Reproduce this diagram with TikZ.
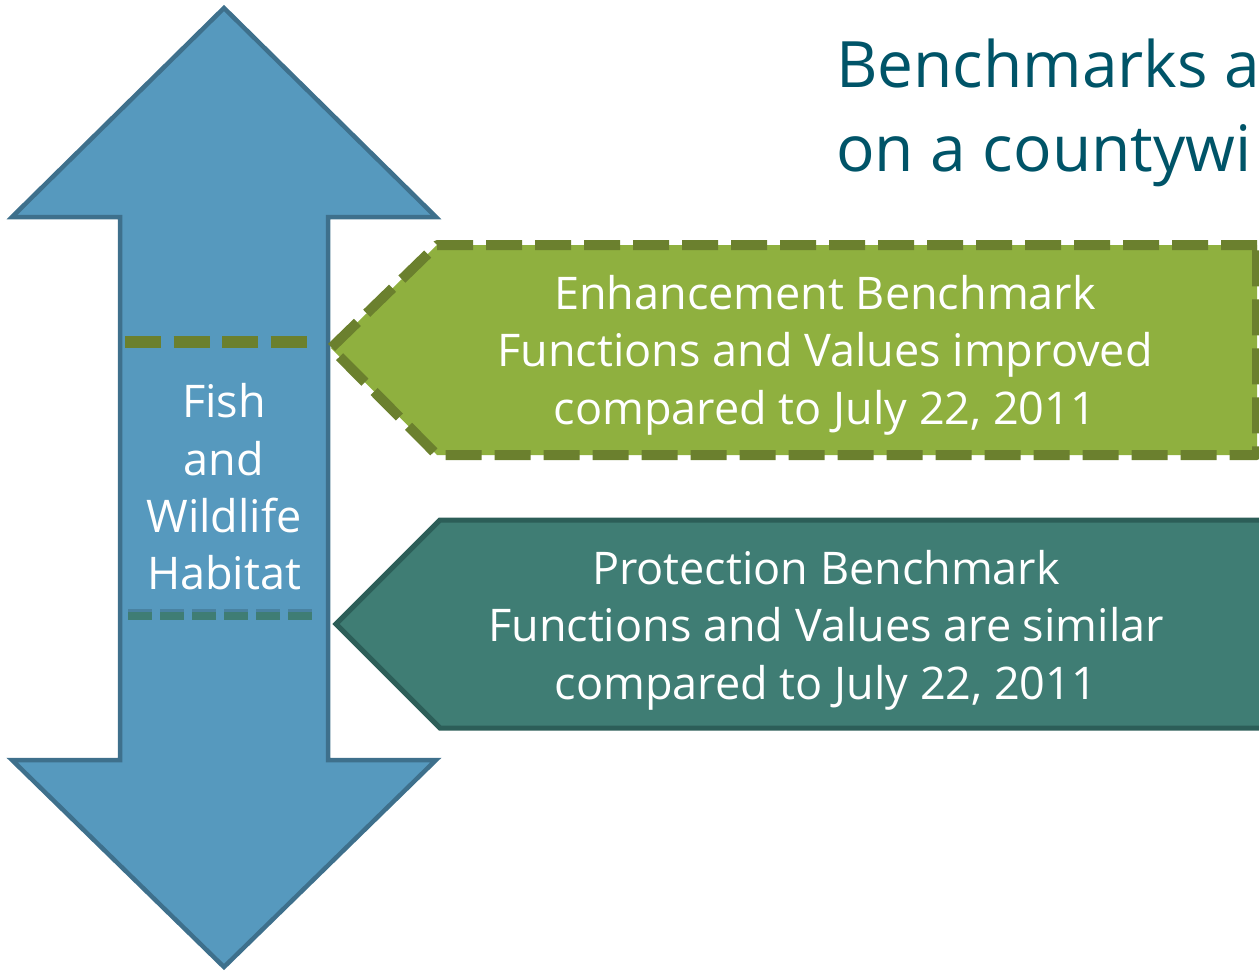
\documentclass[tikz,border=0pt]{standalone}
\usepackage{fontspec}
\setmainfont{Open Sans}
\definecolor{arrowfill}{RGB}{86,153,190}
\definecolor{arrowline}{RGB}{62,112,140}
\definecolor{greenfill}{RGB}{143,176,63}
\definecolor{greenline}{RGB}{107,128,46}
\definecolor{tealfill}{RGB}{63,125,116}
\definecolor{tealline}{RGB}{44,94,88}
\definecolor{titlecol}{RGB}{0,84,104}
\tikzset{
  bigarrow/.style={fill=arrowfill, draw=arrowline, line width=4.5pt, line join=miter},
  greenbox/.style={fill=greenfill, draw=greenline, line width=10pt, dash pattern=on 36pt off 13pt, line join=round},
  tealbox/.style={fill=tealfill, draw=tealline, line width=5pt, line join=miter},
  boxtext/.style={text=white, align=center, inner sep=0pt, font=\fontsize{45}{57.5}\selectfont},
  greendash/.style={draw=greenline, line width=12pt, dash pattern=on 36pt off 12.5pt},
  tealdash/.style={draw=tealfill, line width=8pt, dash pattern=on 24pt off 8pt},
}
\begin{document}
\begin{tikzpicture}[x=1pt,y=-1pt]
\useasboundingbox (0,0) rectangle (1259,970);
\begin{scope}
\clip (0,0) rectangle (1259,970);
% big double arrow
\path[bigarrow] (224,8) -- (436,217) -- (328,217) -- (328,760) -- (436,760) -- (224,967) -- (12,760) -- (120,760) -- (120,217) -- (12,217) -- cycle;
% green dashed line in arrow
\coordinate (g1) at (125,342);
\coordinate (g2) at (307,342);
\draw[greendash] (g1) -- (g2);
% teal dashed line with shadow
\coordinate (t1) at (128,616);
\coordinate (t2) at (312,616);
\draw[tealdash, draw=black, opacity=0.15, line width=9pt] ([yshift=3pt]t1) -- ([yshift=3pt]t2);
\draw[tealdash] (t1) -- (t2);
% enhancement box
\path[greenbox] (1257,245) -- (437,245) -- (331,348) -- (437,455) -- (1257,455) -- cycle;
% protection box
\path[tealbox] (1275,520) -- (440,520) -- (336,624) -- (440,728) -- (1275,728) -- cycle;
\end{scope}
\node[boxtext] (enh) at (825,355) {Enhancement Benchmark\\Functions and Values improved\\compared to July 22, 2011};
\node[boxtext] (prot) at (826,630) {Protection Benchmark\\Functions and Values are similar\\compared to July 22, 2011};
\node[boxtext, font=\fontsize{45}{57.3}\selectfont] (fish) at (224,487) {Fish\\and\\Wildlife\\Habitat};
\node[text=titlecol, align=left, inner sep=0pt, anchor=west, font=\fontsize{64}{84}\selectfont] (title) at (836,113) {Benchmarks a\\on a countywi};
\end{tikzpicture}
\end{document}
